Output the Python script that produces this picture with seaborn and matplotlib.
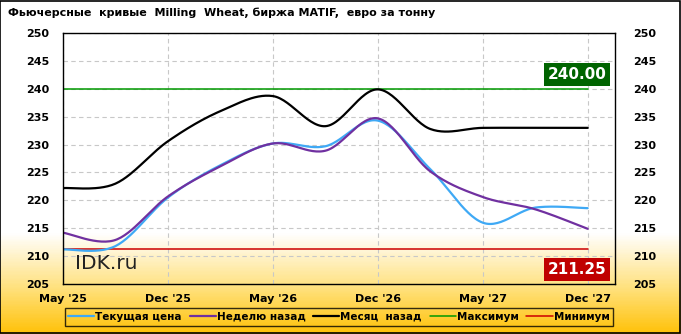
import numpy as np
import pandas as pd
import matplotlib
matplotlib.use("Agg")
import matplotlib.pyplot as plt
import seaborn as sns
from matplotlib.colors import LinearSegmentedColormap
from matplotlib.lines import Line2D

# ---------------- data ----------------
contracts = ["May '25", "Sep '25", "Dec '25", "Mar '26", "May '26", "Sep '26",
             "Dec '26", "Mar '27", "May '27", "Sep '27", "Dec '27"]
current = [211.2, 211.8, 220.5, 226.3, 230.2, 229.7, 234.3, 225.6, 216.0, 218.7, 218.6]
week_ago = [214.2, 212.9, 220.7, 226.1, 230.2, 228.9, 234.7, 225.2, 220.6, 218.4, 214.9]
month_ago = [222.2, 223.0, 230.6, 236.0, 238.7, 233.3, 239.9, 232.8, 233.0, 233.0, 233.0]
max_value = 240.00
min_value = 211.25
tick_labels = ["May '25", "Dec '25", "May '26", "Dec '26", "May '27", "Dec '27"]
series_names = ["Текущая цена", "Неделю назад", "Месяц  назад", "Максимум", "Минимум"]
title = "Фьючерсные  кривые  Milling  Wheat, биржа MATIF,  евро за тонну"

colors = ["#3FA9F5", "#7030A0", "#000000", "#009900", "#CC0000"]


def smooth(values, n=30):
    """Excel-like smoothed line rendering (Catmull-Rom Bezier)."""
    p = np.asarray(values, dtype=float)
    x = np.arange(len(p), dtype=float)
    pts = np.column_stack([x, p])
    ext = np.vstack([pts[0], pts, pts[-1]])
    out = []
    t = np.linspace(0, 1, n)[:, None]
    for i in range(len(pts) - 1):
        P0 = ext[i + 1]
        P3 = ext[i + 2]
        P1 = P0 + (ext[i + 2] - ext[i]) / 6.0
        P2 = P3 - (ext[i + 3] - ext[i + 1]) / 6.0
        seg = ((1 - t) ** 3) * P0 + 3 * ((1 - t) ** 2) * t * P1 + 3 * (1 - t) * t ** 2 * P2 + t ** 3 * P3
        out.append(seg if i == 0 else seg[1:])
    arr = np.vstack(out)
    return arr[:, 0], arr[:, 1]


sns.set_style("white")
plt.rcParams["font.family"] = ["DejaVu Sans"]
plt.rcParams["text.color"] = "black"
plt.rcParams["xtick.color"] = "black"
plt.rcParams["ytick.color"] = "black"

fig = plt.figure(figsize=(6.81, 3.34), dpi=100)

# background gradient (white -> gold)
bg = fig.add_axes([0, 0, 1, 1], zorder=-10)
cmap = LinearSegmentedColormap.from_list(
    "bg", [(0.0, "#FFC20A"), (0.13, "#FFE079"), (0.30, "#FFFFFF"), (1.0, "#FFFFFF")])
grad = np.linspace(0, 1, 334)[:, None]
bg.imshow(grad, aspect="auto", cmap=cmap, origin="lower", extent=[0, 1, 0, 1])
bg.set_axis_off()
fig.patches.append(plt.Rectangle((0.0007, 0.0015), 0.998, 0.997, transform=fig.transFigure,
                                 fill=False, edgecolor="black", linewidth=1.2))

ax = fig.add_axes([0.0925, 0.1497, 0.8105, 0.7513])
ax.patch.set_alpha(0)

# build long dataframe of rendered curves
frames = []
for name, vals in zip(series_names[:3], [current, week_ago, month_ago]):
    xs, ys = smooth(vals)
    frames.append(pd.DataFrame({"x": xs, "y": ys, "s": name}))
curves = pd.concat(frames, ignore_index=True)

# max / min lines
x_ends = [0, len(contracts) - 1]
ref = pd.concat([
    pd.DataFrame({"x": x_ends, "y": [max_value] * 2, "s": series_names[3]}),
    pd.DataFrame({"x": x_ends, "y": [min_value] * 2, "s": series_names[4]}),
], ignore_index=True)

palette = dict(zip(series_names, colors))
sns.lineplot(data=ref, x="x", y="y", hue="s", palette=palette, sort=False,
             linewidth=1.1, ax=ax, legend=False, estimator=None, units="s")
sns.lineplot(data=curves, x="x", y="y", hue="s", palette=palette, sort=False,
             linewidth=1.6, ax=ax, legend=False, estimator=None, units="s")

ax.set_xlim(0, 10.52)
ax.set_ylim(205, 250)
ax.set_xticks(np.arange(0, len(contracts), 2))
ax.set_xticklabels(tick_labels)
ax.set_yticks(np.arange(205, 251, 5))
ax.set_xlabel("")
ax.set_ylabel("")
ax.grid(True, color="#C8C8C8", linestyle=(0, (4, 3)), linewidth=0.8)
for sp in ax.spines.values():
    sp.set_visible(True)
    sp.set_color("black")
    sp.set_linewidth(1.0)
ax.tick_params(axis="y", length=0, labelsize=8, pad=10)
ax.tick_params(axis="x", length=0, labelsize=8, pad=7)
for lab in ax.get_xticklabels() + ax.get_yticklabels():
    lab.set_fontweight("bold")

ax2 = ax.twinx()
ax2.set_ylim(205, 250)
ax2.set_yticks(np.arange(205, 251, 5))
ax2.tick_params(axis="y", length=0, labelsize=8, pad=13)
for lab in ax2.get_yticklabels():
    lab.set_fontweight("bold")
for sp in ax2.spines.values():
    sp.set_visible(False)

# value boxes
ax.text(9.8, 242.6, f"{max_value:.2f}", color="white", fontsize=11, fontweight="bold",
        ha="center", va="center",
        bbox=dict(boxstyle="square,pad=0.25", facecolor="#006400", edgecolor="none"))
ax.text(9.8, 207.6, f"{min_value:.2f}", color="white", fontsize=11, fontweight="bold",
        ha="center", va="center",
        bbox=dict(boxstyle="square,pad=0.25", facecolor="#C00000", edgecolor="none"))

ax.text(0.22, 208.7, "IDK.ru", fontsize=14.5, color="#222222", ha="left", va="center")

fig.text(0.012, 0.962, title, fontsize=8, fontweight="bold", ha="left", va="center")

# legend
handles = [Line2D([0], [0], color=c, linewidth=1.6 if i < 3 else 1.1) for i, c in enumerate(colors)]
leg = fig.legend(handles, series_names, loc="center", bbox_to_anchor=(0.4975, 0.051), ncol=5,
                 frameon=True, fontsize=7.5, handlelength=2.5, handletextpad=0.1,
                 columnspacing=0.75, borderpad=0.35, fancybox=False)
leg.get_frame().set_edgecolor("black")
leg.get_frame().set_linewidth(1.0)
leg.get_frame().set_facecolor("none")
for t in leg.get_texts():
    t.set_fontweight("bold")

fig.savefig("out.png", dpi=100)
